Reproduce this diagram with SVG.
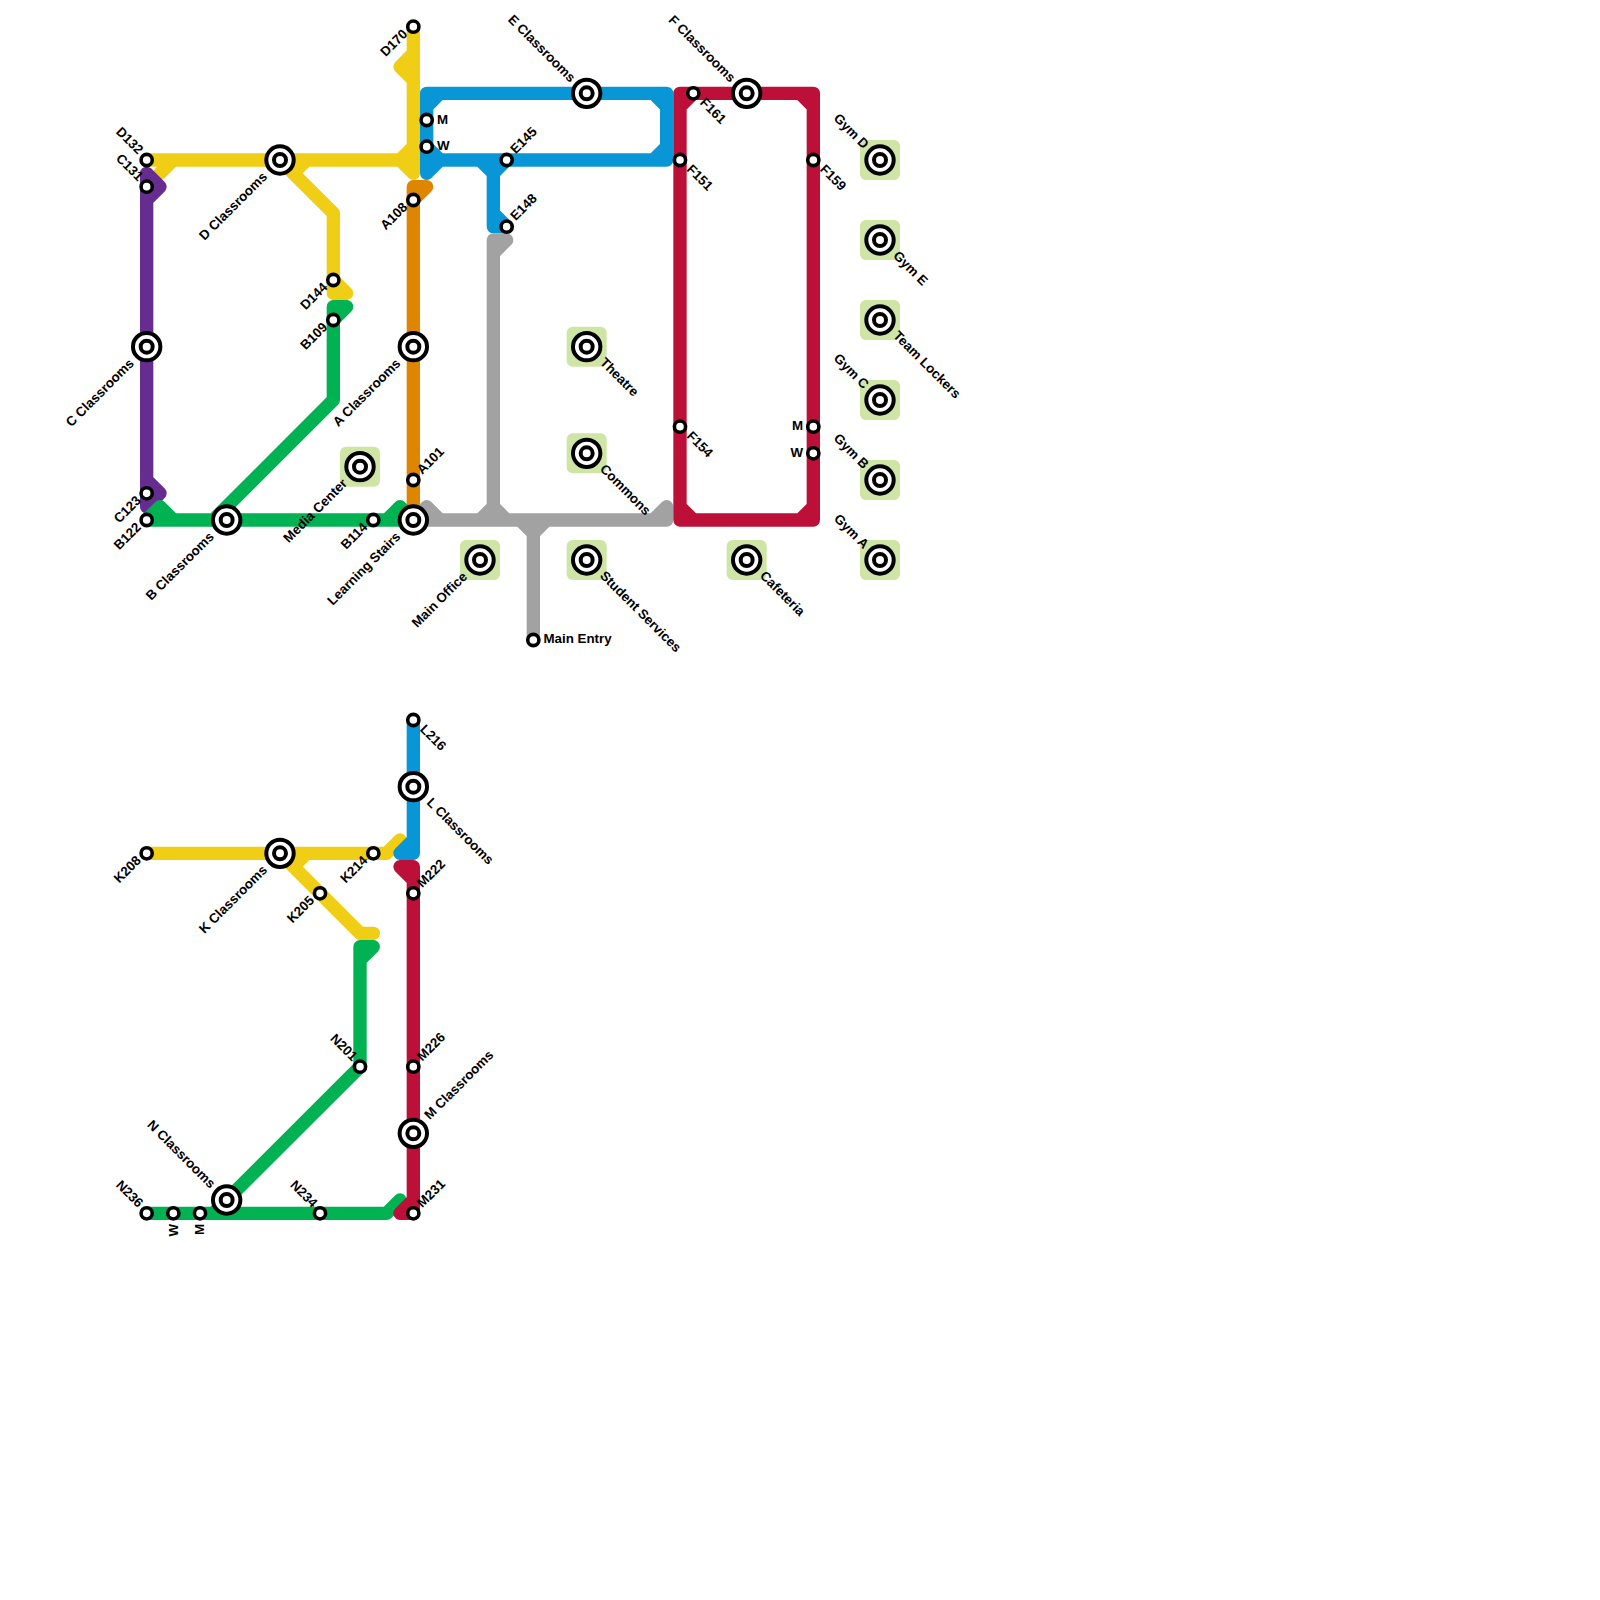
<svg xmlns="http://www.w3.org/2000/svg" width="1600" height="1600" viewBox="0 0 1600 1600">
<style>
.l{fill:none;stroke-width:1;stroke-linecap:round;stroke-linejoin:round}
.y{stroke:#f0ce15}.p{stroke:#662c90}.b{stroke:#0896d7}.o{stroke:#df8600}.s{stroke:#a2a2a2}.r{stroke:#bd1038}.g{stroke:#00b251}
.o1{fill:#fff;stroke:#000;stroke-width:4}
.st{fill:#fff;stroke:#000;stroke-width:3.6}
.f{fill:#cfe5a6}
text{font-family:"Liberation Sans",Arial,sans-serif;font-size:13.33px;font-weight:bold;fill:#000}
.e{text-anchor:end}
</style>
<defs>
<g id="big"><circle class="o1" r="13.7"/><circle class="o1" r="6"/></g>
<circle id="small" class="st" r="5.6"/>
<rect id="fac" x="-20" y="-20" width="40" height="40" rx="6" class="f"/>
</defs>
<rect width="1600" height="1600" fill="#fff"/>
<g id="connectors" transform="scale(13.33333)">
<path class="l y" d="M11 12H13M12 13L13 12H30L31 11M30 12L31 13V2M31 4L30 5L31 6M22 13L23 12M21 12L25 16V22H26L25 21"/>
<path class="l p" d="M11 13L12 14L11 15M11 13V38L12 37L11 36"/>
<path class="l b" d="M33 7L32 8M32 13V7H50V12H33L32 13M32 11L33 12M49 7L50 8M50 11L49 12M36 12L37 13L38 12M37 13V17H38L37 16"/>
<path class="l o" d="M32 14L31 15M32 14H31V39"/>
<path class="l s" d="M38 18L37 19M38 18H37V39M31 39L32 38L33 39M31 39H50V38L49 39M36 39L37 38L38 39M39 39L40 40L41 39M40 40V48"/>
<path class="l g" d="M26 23L25 24M26 23H25V30L16 39M11 39L12 38L13 39M11 39H31L30 38L29 39"/>
<path class="l r" d="M51 39V7H61V39H51M51 8L52 7M60 7L61 8M51 38L52 39M60 39L61 38"/>
<path class="l y" d="M11 64H29L30 63M21 64L27 70H28M22 65L23 64"/>
<path class="l g" d="M28 71L27 72M28 71H27V80L16 91M11 91H29L30 90"/>
<path class="l b" d="M31 54V64H30L31 63"/>
<path class="l r" d="M30 65L31 66M30 65H31V91H30L31 90"/>
</g>
<g id="n-d132"><use href="#small" x="146.67" y="160"/><text class="e" transform="translate(137.7 155) rotate(45)">D132</text></g>
<g id="n-c131"><use href="#small" x="146.67" y="186.67"/><text class="e" transform="translate(137.7 181.7) rotate(45)">C131</text></g>
<g id="n-dclass"><use href="#big" x="280" y="160"/><text class="e" transform="translate(268 177.5) rotate(-45)">D Classrooms</text></g>
<g id="n-d170"><use href="#small" x="413.33" y="26.67"/><text class="e" transform="translate(408.3 34.7) rotate(-45)">D170</text></g>
<g id="n-m1"><use href="#small" x="426.67" y="120"/><text x="437" y="123.5">M</text></g>
<g id="n-w1"><use href="#small" x="426.67" y="146.67"/><text x="437" y="150">W</text></g>
<g id="n-a108"><use href="#small" x="413.33" y="200"/><text class="e" transform="translate(408.3 208) rotate(-45)">A108</text></g>
<g id="n-d144"><use href="#small" x="333.33" y="280"/><text class="e" transform="translate(328.3 288) rotate(-45)">D144</text></g>
<g id="n-b109"><use href="#small" x="333.33" y="320"/><text class="e" transform="translate(328.3 328) rotate(-45)">B109</text></g>
<g id="n-cclass"><use href="#big" x="146.67" y="346.67"/><text class="e" transform="translate(134.7 364.2) rotate(-45)">C Classrooms</text></g>
<g id="n-aclass"><use href="#big" x="413.33" y="346.67"/><text class="e" transform="translate(401.3 364.2) rotate(-45)">A Classrooms</text></g>
<g id="n-c123"><use href="#small" x="146.67" y="493.33"/><text class="e" transform="translate(141.7 501.3) rotate(-45)">C123</text></g>
<g id="n-b122"><use href="#small" x="146.67" y="520"/><text class="e" transform="translate(141.7 528) rotate(-45)">B122</text></g>
<g id="n-bclass"><use href="#big" x="226.67" y="520"/><text class="e" transform="translate(214.7 537.5) rotate(-45)">B Classrooms</text></g>
<g id="n-media"><use href="#fac" x="360" y="466.67"/><use href="#big" x="360" y="466.67"/><text class="e" transform="translate(348 484.2) rotate(-45)">Media Center</text></g>
<g id="n-b114"><use href="#small" x="373.33" y="520"/><text class="e" transform="translate(368.3 528) rotate(-45)">B114</text></g>
<g id="n-learn"><use href="#big" x="413.33" y="520"/><text class="e" transform="translate(401.3 537.5) rotate(-45)">Learning Stairs</text></g>
<g id="n-a101"><use href="#small" x="413.33" y="480"/><text transform="translate(422.3 475) rotate(-45)">A101</text></g>
<g id="n-main"><use href="#fac" x="480" y="560"/><use href="#big" x="480" y="560"/><text class="e" transform="translate(468 577.5) rotate(-45)">Main Office</text></g>
<g id="n-entry"><use href="#small" x="533.33" y="640"/><text x="543.5" y="643">Main Entry</text></g>
<g id="n-e148"><use href="#small" x="506.67" y="226.67"/><text transform="translate(515.7 221.2) rotate(-45)">E148</text></g>
<g id="n-e145"><use href="#small" x="506.67" y="160"/><text transform="translate(515.7 154.5) rotate(-45)">E145</text></g>
<g id="n-eclass"><use href="#big" x="586.67" y="93.33"/><text class="e" transform="translate(570 83) rotate(45)">E Classrooms</text></g>
<g id="n-fclass"><use href="#big" x="746.67" y="93.33"/><text class="e" transform="translate(730 83) rotate(45)">F Classrooms</text></g>
<g id="n-f161"><use href="#small" x="693.33" y="93.33"/><text transform="translate(699.3 103.3) rotate(45)">F161</text></g>
<g id="n-f151"><use href="#small" x="680" y="160"/><text transform="translate(686 170) rotate(45)">F151</text></g>
<g id="n-f159"><use href="#small" x="813.33" y="160"/><text transform="translate(819.3 170) rotate(45)">F159</text></g>
<g id="n-f154"><use href="#small" x="680" y="426.67"/><text transform="translate(686 436.7) rotate(45)">F154</text></g>
<g id="n-m2"><use href="#small" x="813.33" y="426.67"/><text class="e" x="803" y="430">M</text></g>
<g id="n-w2"><use href="#small" x="813.33" y="453.33"/><text class="e" x="803" y="456.7">W</text></g>
<g id="n-gymd"><use href="#fac" x="880" y="160"/><use href="#big" x="880" y="160"/><text class="e" transform="translate(863.3 149.5) rotate(45)">Gym D</text></g>
<g id="n-gyme"><use href="#fac" x="880" y="240"/><use href="#big" x="880" y="240"/><text transform="translate(892.5 256.5) rotate(45)">Gym E</text></g>
<g id="n-team"><use href="#fac" x="880" y="320"/><use href="#big" x="880" y="320"/><text transform="translate(892.5 336.5) rotate(45)">Team Lockers</text></g>
<g id="n-gymc"><use href="#fac" x="880" y="400"/><use href="#big" x="880" y="400"/><text class="e" transform="translate(863.3 389.5) rotate(45)">Gym C</text></g>
<g id="n-gymb"><use href="#fac" x="880" y="480"/><use href="#big" x="880" y="480"/><text class="e" transform="translate(863.3 469.5) rotate(45)">Gym B</text></g>
<g id="n-gyma"><use href="#fac" x="880" y="560"/><use href="#big" x="880" y="560"/><text class="e" transform="translate(863.3 549.5) rotate(45)">Gym A</text></g>
<g id="n-theatre"><use href="#fac" x="586.67" y="346.67"/><use href="#big" x="586.67" y="346.67"/><text transform="translate(599.2 363.2) rotate(45)">Theatre</text></g>
<g id="n-commons"><use href="#fac" x="586.67" y="453.33"/><use href="#big" x="586.67" y="453.33"/><text transform="translate(599.2 469.8) rotate(45)">Commons</text></g>
<g id="n-student"><use href="#fac" x="586.67" y="560"/><use href="#big" x="586.67" y="560"/><text transform="translate(599.2 576.5) rotate(45)">Student Services</text></g>
<g id="n-cafe"><use href="#fac" x="746.67" y="560"/><use href="#big" x="746.67" y="560"/><text transform="translate(759.2 576.5) rotate(45)">Cafeteria</text></g>
<g id="n-l216"><use href="#small" x="413.33" y="720"/><text transform="translate(419.3 730) rotate(45)">L216</text></g>
<g id="n-lclass"><use href="#big" x="413.33" y="786.67"/><text transform="translate(426 803.2) rotate(45)">L Classrooms</text></g>
<g id="n-k208"><use href="#small" x="146.67" y="853.33"/><text class="e" transform="translate(141.7 861.3) rotate(-45)">K208</text></g>
<g id="n-kclass"><use href="#big" x="280" y="853.33"/><text class="e" transform="translate(268 870.8) rotate(-45)">K Classrooms</text></g>
<g id="n-k214"><use href="#small" x="373.33" y="853.33"/><text class="e" transform="translate(368.3 861.3) rotate(-45)">K214</text></g>
<g id="n-k205"><use href="#small" x="320" y="893.33"/><text class="e" transform="translate(315 901.3) rotate(-45)">K205</text></g>
<g id="n-m222"><use href="#small" x="413.33" y="893.33"/><text transform="translate(422.3 888.3) rotate(-45)">M222</text></g>
<g id="n-n201"><use href="#small" x="360" y="1066.67"/><text class="e" transform="translate(352 1061.7) rotate(45)">N201</text></g>
<g id="n-m226"><use href="#small" x="413.33" y="1066.67"/><text transform="translate(422.3 1061.7) rotate(-45)">M226</text></g>
<g id="n-mclass"><use href="#big" x="413.33" y="1133.33"/><text transform="translate(429.8 1120.3) rotate(-45)">M Classrooms</text></g>
<g id="n-m231"><use href="#small" x="413.33" y="1213.33"/><text transform="translate(422.3 1208.3) rotate(-45)">M231</text></g>
<g id="n-n236"><use href="#small" x="146.67" y="1213.33"/><text class="e" transform="translate(137.7 1208.3) rotate(45)">N236</text></g>
<g id="n-w3"><use href="#small" x="173.33" y="1213.33"/><text class="e" transform="translate(177.7 1224) rotate(-90)">W</text></g>
<g id="n-m3"><use href="#small" x="200" y="1213.33"/><text class="e" transform="translate(204.4 1224) rotate(-90)">M</text></g>
<g id="n-nclass"><use href="#big" x="226.67" y="1200"/><text class="e" transform="translate(210 1189) rotate(45)">N Classrooms</text></g>
<g id="n-n234"><use href="#small" x="320" y="1213.33"/><text class="e" transform="translate(312 1208.3) rotate(45)">N234</text></g>
</svg>
